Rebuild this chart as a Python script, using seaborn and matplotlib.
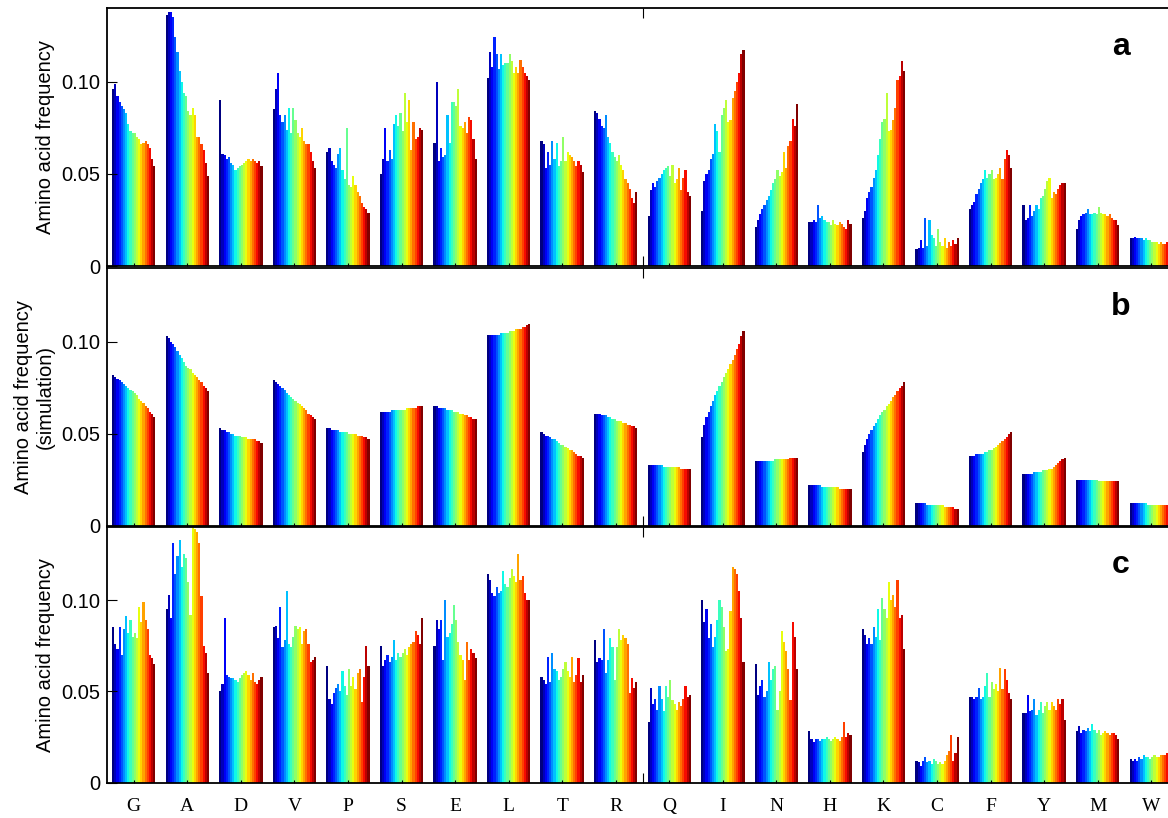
import numpy as np
import pandas as pd
import matplotlib
matplotlib.use("Agg")
import matplotlib.pyplot as plt
import seaborn as sns

# amino acids in plot order
amino = ['G', 'A', 'D', 'V', 'P', 'S', 'E', 'L', 'T', 'R',
         'Q', 'I', 'N', 'H', 'K', 'C', 'F', 'Y', 'M', 'W']
n_bars = 20  # genomes per group, ordered along the colour scale

# panel a: observed frequencies (x 1/1000)
freq_a = [
    [96, 99, 92, 89, 87, 85, 83, 77, 73, 72, 72, 70, 69, 66, 67, 68, 66, 64, 58, 54],
    [136, 138, 138, 135, 124, 116, 106, 100, 94, 92, 84, 82, 86, 82, 70, 70, 66, 63, 56, 49],
    [90, 61, 60, 58, 59, 56, 55, 52, 53, 54, 55, 56, 57, 58, 57, 58, 57, 56, 57, 54],
    [85, 96, 105, 82, 78, 82, 74, 86, 72, 86, 79, 72, 70, 75, 68, 66, 66, 62, 57, 53],
    [62, 64, 57, 55, 53, 61, 64, 52, 47, 75, 44, 43, 49, 44, 40, 38, 34, 32, 31, 29],
    [50, 58, 75, 57, 63, 58, 77, 82, 76, 83, 73, 94, 78, 90, 63, 78, 69, 70, 75, 74],
    [67, 100, 57, 64, 59, 60, 82, 67, 89, 89, 87, 96, 76, 75, 78, 72, 81, 79, 69, 58],
    [102, 116, 108, 124, 115, 107, 115, 109, 110, 110, 115, 111, 105, 108, 105, 112, 108, 105, 103, 101],
    [68, 66, 53, 62, 55, 68, 58, 67, 54, 57, 70, 57, 62, 60, 59, 57, 54, 57, 55, 51],
    [84, 83, 80, 76, 75, 82, 70, 67, 62, 59, 57, 60, 55, 52, 47, 45, 42, 37, 34, 40],
    [27, 41, 45, 43, 46, 48, 50, 52, 53, 54, 49, 55, 45, 47, 53, 41, 48, 52, 40, 38],
    [30, 46, 50, 52, 58, 61, 77, 73, 62, 82, 86, 90, 78, 79, 91, 95, 100, 105, 115, 117],
    [21, 25, 28, 31, 33, 36, 38, 41, 45, 47, 52, 49, 51, 62, 53, 65, 68, 80, 76, 88],
    [24, 24, 25, 24, 33, 26, 27, 25, 24, 24, 22, 25, 23, 22, 24, 23, 21, 20, 25, 23],
    [26, 30, 37, 40, 43, 48, 52, 60, 69, 78, 80, 94, 73, 74, 79, 86, 101, 103, 111, 106],
    [9, 10, 14, 10, 26, 11, 25, 17, 15, 11, 20, 13, 11, 15, 10, 13, 11, 14, 12, 15],
    [31, 33, 35, 39, 42, 45, 47, 52, 48, 50, 52, 47, 48, 50, 53, 47, 58, 63, 60, 53],
    [33, 25, 26, 33, 27, 30, 33, 31, 37, 38, 42, 46, 48, 37, 40, 39, 42, 44, 45, 45],
    [20, 25, 27, 28, 29, 31, 28, 28, 29, 28, 32, 29, 28, 28, 27, 28, 26, 25, 25, 22],
    [15, 15, 16, 15, 15, 15, 14, 15, 14, 14, 13, 13, 13, 12, 13, 12, 12, 13, 11, 11],
]

# panel b: simulation
freq_b = [
    [82, 81, 80, 79, 78, 77, 76, 75, 74, 73, 72, 71, 69, 68, 67, 65, 64, 62, 61, 59],
    [103, 102, 100, 99, 97, 95, 93, 91, 89, 87, 86, 85, 83, 82, 81, 79, 78, 76, 75, 73],
    [53, 52, 52, 51, 51, 50, 50, 49, 49, 49, 48, 48, 48, 47, 47, 47, 47, 46, 46, 45],
    [79, 78, 77, 76, 75, 74, 72, 71, 70, 69, 68, 67, 66, 65, 64, 63, 61, 60, 59, 58],
    [53, 53, 52, 52, 52, 52, 51, 51, 51, 51, 50, 50, 50, 50, 49, 49, 49, 48, 48, 47],
    [62, 62, 62, 62, 62, 63, 63, 63, 63, 63, 63, 63, 64, 64, 64, 64, 64, 65, 65, 65],
    [65, 65, 64, 64, 64, 64, 63, 63, 63, 62, 62, 62, 61, 61, 60, 60, 59, 59, 58, 58],
    [104, 104, 104, 104, 104, 104, 105, 105, 105, 105, 106, 106, 106, 107, 107, 107, 108, 108, 109, 110],
    [51, 50, 49, 49, 48, 47, 47, 46, 45, 44, 44, 43, 42, 41, 41, 40, 39, 38, 38, 37],
    [61, 61, 61, 60, 60, 60, 59, 59, 58, 58, 57, 57, 57, 56, 56, 55, 55, 54, 54, 53],
    [33, 33, 33, 33, 33, 33, 33, 32, 32, 32, 32, 32, 32, 32, 32, 31, 31, 31, 31, 31],
    [48, 55, 59, 62, 65, 68, 71, 73, 76, 78, 81, 83, 85, 88, 90, 93, 96, 99, 103, 106],
    [35, 35, 35, 35, 35, 35, 35, 35, 35, 36, 36, 36, 36, 36, 36, 36, 37, 37, 37, 37],
    [22, 22, 22, 22, 22, 22, 21, 21, 21, 21, 21, 21, 21, 21, 20, 20, 20, 20, 20, 20],
    [40, 44, 47, 50, 52, 54, 56, 58, 60, 62, 63, 65, 66, 68, 70, 71, 73, 75, 76, 78],
    [12, 12, 12, 12, 12, 11, 11, 11, 11, 11, 11, 11, 11, 10, 10, 10, 10, 10, 9, 9],
    [38, 38, 38, 39, 39, 39, 39, 40, 40, 41, 41, 42, 43, 44, 45, 46, 47, 48, 50, 51],
    [28, 28, 28, 28, 28, 29, 29, 29, 29, 30, 30, 30, 31, 31, 32, 33, 34, 35, 36, 37],
    [25, 25, 25, 25, 25, 25, 25, 25, 25, 25, 24, 24, 24, 24, 24, 24, 24, 24, 24, 24],
    [12, 12, 12, 12, 12, 12, 12, 12, 11, 11, 11, 11, 11, 11, 11, 11, 11, 11, 11, 11],
]

# panel c
freq_c = [
    [85, 76, 73, 85, 70, 84, 91, 82, 89, 80, 82, 79, 96, 88, 99, 89, 84, 70, 68, 65],
    [95, 103, 90, 131, 114, 124, 133, 118, 125, 123, 110, 92, 140, 139, 137, 131, 102, 75, 71, 60],
    [50, 54, 90, 59, 58, 57, 57, 56, 55, 57, 59, 60, 61, 59, 56, 60, 55, 54, 56, 58],
    [85, 86, 79, 96, 74, 78, 105, 76, 74, 80, 86, 84, 85, 76, 83, 84, 76, 66, 67, 69],
    [64, 46, 43, 49, 52, 54, 50, 61, 53, 48, 62, 53, 58, 51, 60, 62, 44, 58, 75, 64],
    [75, 64, 67, 70, 66, 69, 78, 67, 71, 69, 71, 73, 70, 74, 76, 77, 83, 81, 76, 90],
    [75, 89, 84, 89, 67, 100, 80, 82, 87, 97, 89, 77, 70, 67, 56, 77, 67, 73, 71, 68],
    [114, 111, 104, 102, 107, 104, 105, 116, 109, 107, 112, 117, 113, 110, 125, 111, 113, 104, 100, 100],
    [58, 56, 54, 69, 55, 71, 62, 61, 56, 58, 62, 66, 61, 58, 69, 55, 59, 68, 55, 59],
    [78, 66, 68, 67, 84, 60, 67, 79, 74, 56, 74, 84, 78, 81, 79, 76, 49, 57, 52, 55],
    [33, 52, 43, 46, 40, 53, 46, 39, 53, 47, 56, 45, 43, 40, 44, 42, 46, 53, 47, 48],
    [100, 88, 95, 79, 87, 74, 80, 89, 100, 96, 85, 72, 73, 94, 118, 117, 114, 105, 90, 66],
    [65, 48, 53, 56, 47, 50, 66, 56, 62, 64, 40, 50, 83, 77, 72, 62, 45, 88, 80, 62],
    [28, 24, 22, 24, 24, 23, 24, 24, 25, 24, 23, 24, 25, 24, 23, 25, 33, 25, 27, 26],
    [84, 81, 76, 79, 76, 85, 80, 95, 78, 101, 95, 90, 110, 100, 103, 96, 111, 90, 92, 73],
    [12, 11, 9, 12, 14, 11, 12, 10, 13, 12, 10, 11, 10, 12, 15, 17, 26, 12, 16, 25],
    [47, 47, 46, 47, 52, 46, 47, 53, 60, 47, 55, 51, 54, 50, 63, 51, 62, 56, 49, 46],
    [38, 38, 48, 39, 40, 46, 37, 40, 44, 38, 42, 44, 40, 44, 42, 40, 46, 43, 46, 34],
    [28, 31, 27, 29, 28, 30, 28, 32, 29, 27, 29, 26, 27, 28, 27, 26, 27, 27, 26, 24],
    [13, 12, 13, 12, 14, 13, 15, 14, 14, 13, 14, 15, 14, 14, 15, 15, 15, 16, 15, 14],
]

plt.rcParams['font.family'] = 'Liberation Sans'

W, H = 1168, 818
fig = plt.figure(figsize=(W / 100, H / 100), dpi=100)

genomes = [f"g{i:02d}" for i in range(n_bars)]
colors = [tuple(c) for c in plt.cm.jet(np.linspace(0, 1, n_bars))]

panels = [
    (freq_a, 8, 266, 'a', 'Amino acid frequency'),
    (freq_b, 268.5, 525.5, 'b', 'Amino acid frequency\n(simulation)'),
    (freq_c, 527, 782.5, 'c', 'Amino acid frequency'),
]

for k, (values, top, bottom, tag, ylab) in enumerate(panels):
    ax = fig.add_axes([107 / W, 1 - bottom / H, (1178 - 107) / W, (bottom - top) / H])

    rows = [(aa, genomes[j], v / 1000)
            for aa, row in zip(amino, values) for j, v in enumerate(row)]
    df = pd.DataFrame(rows, columns=['aa', 'genome', 'freq'])

    sns.barplot(data=df, x='aa', y='freq', hue='genome', order=amino,
                hue_order=genomes, palette=colors, width=0.81, gap=0,
                saturation=1, errorbar=None, linewidth=0, legend=False, ax=ax)

    ax.set_xlim(-0.5, 19.5)
    ax.set_ylim(0, 0.14)
    ax.set_yticks([0, 0.05, 0.10])
    ax.set_yticklabels(['0', '0.05', '0.10'])
    ax.tick_params(axis='y', direction='in', length=7, width=0.8,
                   left=True, right=True, labelsize=14.5, pad=5)

    ax.set_xticks(range(len(amino)))
    ax.set_xticks([9.5], minor=True)
    ax.tick_params(axis='x', which='major', direction='in', length=2, width=0.8)
    ax.tick_params(axis='x', which='minor', direction='in', length=7, width=0.8,
                   top=True, bottom=True)
    if k < 2:
        ax.tick_params(axis='x', labelbottom=False)
    else:
        ax.set_xticklabels(amino, fontfamily='Liberation Serif', fontsize=14)
        ax.tick_params(axis='x', which='major', pad=11)

    ax.set_xlabel('')
    ax.set_ylabel(ylab, fontsize=14.5)
    ax.yaxis.set_label_coords(-0.049, 0.5)

    for sp in ax.spines.values():
        sp.set_visible(True)
        sp.set_linewidth(1.3)
        sp.set_color('black')

    ax.text(0.9465, 0.85, tag, transform=ax.transAxes, fontsize=23,
            fontweight='bold', ha='center', va='center')

fig.savefig('out.png', dpi=100)
